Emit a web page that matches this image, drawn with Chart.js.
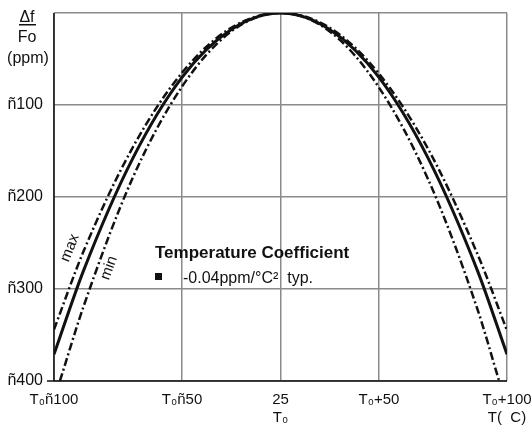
<!DOCTYPE html>
<html>
<head>
<meta charset="utf-8">
<script src="https://cdn.jsdelivr.net/npm/chart.js@4"></script>
<style>
    html, body { margin: 0; padding: 0; background: #fff; }
</style>
</head>
<body>
<canvas id="tcChart" width="531" height="429"></canvas>
<script>
// Datos (x = posicion respecto a T0, y = ppm)
const typX = [-115, -100, -75, -50, -25, 0, 25, 50, 75, 100, 115];
const typValues = [-371, -280, -158, -70, -18, 0, -18, -70, -158, -280, -371];
const maxX = [-115, -100, -75, -50, -25, 0, 25, 50, 75, 100, 115];
const maxValues = [-344, -259, -146, -65, -16, 0, -16, -66, -148, -262, -345];
const minX = [-112, -100, -75, -50, -25, 0, 25, 50, 75, 100, 111];
const minValues = [-400, -319, -179, -80, -20, 0, -20, -81, -181, -322, -400];

const xTickValues = [-115, -50, 0, 50, 115];
const xTickLabels = [['T\u2080\u00f1100'], ['T\u2080\u00f150'], ['25', 'T\u2080'], ['T\u2080+50'], ['T\u2080+100', 'T(  C)']];
const yTickValues = [0, -100, -200, -300, -400];
const yTickLabels = ['', '\u00f1100', '\u00f1200', '\u00f1300', '\u00f1400'];

const FONT = '"Liberation Sans", Arial, sans-serif';

function toPoints(xs, ys) {
    return xs.map((x, i) => ({ x: x, y: ys[i] }));
}

// Textos sobre el grafico: titulo del eje, leyenda y etiquetas max/min
const annotations = {
    id: 'annotations',
    afterDraw(chart) {
        const ctx = chart.ctx;
        const a = chart.chartArea;
        ctx.save();
        // marco izquierdo e inferior
        ctx.strokeStyle = '#111';
        ctx.lineWidth = 1.5;
        ctx.beginPath();
        ctx.moveTo(a.left, a.top);
        ctx.lineTo(a.left, a.bottom);
        ctx.lineTo(a.right, a.bottom);
        ctx.moveTo(a.left - 7, a.bottom);
        ctx.lineTo(a.left, a.bottom);
        ctx.stroke();

        ctx.fillStyle = '#111';
        // titulo del eje Y
        ctx.font = '16px ' + FONT;
        ctx.textAlign = 'center';
        ctx.textBaseline = 'alphabetic';
        ctx.fillText('\u0394f', 27, 22);
        ctx.fillRect(19, 24, 17, 1.5);
        ctx.fillText('Fo', 27, 42);
        ctx.fillText('(ppm)', 28, 63);

        // leyenda
        ctx.textAlign = 'left';
        ctx.font = 'bold 17px ' + FONT;
        ctx.fillText('Temperature Coefficient', 155, 258);
        ctx.fillRect(155, 273, 7, 7);
        ctx.font = '16px ' + FONT;
        ctx.fillText('-0.04ppm/\u00b0C\u00b2  typ.', 183, 283);

        // etiquetas rotadas
        ctx.font = '15px ' + FONT;
        ctx.textAlign = 'center';
        ctx.textBaseline = 'middle';
        ctx.translate(70, 248);
        ctx.rotate(-68 * Math.PI / 180);
        ctx.fillText('max', 0, 0);
        ctx.restore();

        ctx.save();
        ctx.fillStyle = '#111';
        ctx.font = '15px ' + FONT;
        ctx.textAlign = 'center';
        ctx.textBaseline = 'middle';
        ctx.translate(109, 268);
        ctx.rotate(-70 * Math.PI / 180);
        ctx.fillText('min', 0, 0);
        ctx.restore();
    }
};

new Chart(document.getElementById('tcChart'), {
    type: 'line',
    data: {
        datasets: [
            {
                label: 'typ',
                data: toPoints(typX, typValues),
                borderColor: '#111',
                borderWidth: 3,
                pointRadius: 0,
                cubicInterpolationMode: 'monotone'
            },
            {
                label: 'max',
                data: toPoints(maxX, maxValues),
                borderColor: '#111',
                borderWidth: 2.5,
                borderDash: [8, 3, 2, 3],
                pointRadius: 0,
                cubicInterpolationMode: 'monotone'
            },
            {
                label: 'min',
                data: toPoints(minX, minValues),
                borderColor: '#111',
                borderWidth: 2.5,
                borderDash: [8, 3, 2, 3],
                pointRadius: 0,
                cubicInterpolationMode: 'monotone'
            }
        ]
    },
    options: {
        responsive: false,
        animation: false,
        devicePixelRatio: 1,
        layout: { padding: { left: 0, top: 13, right: 24, bottom: 0 } },
        plugins: {
            legend: { display: false },
            tooltip: { enabled: false }
        },
        scales: {
            x: {
                type: 'linear',
                min: -115,
                max: 115,
                afterBuildTicks: scale => {
                    scale.ticks = xTickValues.map(v => ({ value: v }));
                },
                afterFit: scale => {
                    scale.height = 48;
                    scale.paddingLeft = 0;
                    scale.paddingRight = 0;
                },
                ticks: {
                    autoSkip: false,
                    maxRotation: 0,
                    padding: 10,
                    color: '#111',
                    font: { family: FONT, size: 15, lineHeight: 1.2 },
                    callback: (value, index) => xTickLabels[index]
                },
                grid: { color: '#8a8a8a', lineWidth: 1.5, drawTicks: false },
                border: { display: false }
            },
            y: {
                min: -400,
                max: 0,
                afterBuildTicks: scale => {
                    scale.ticks = yTickValues.map(v => ({ value: v }));
                },
                afterFit: scale => {
                    scale.width = 54;
                    scale.paddingTop = 0;
                    scale.paddingBottom = 0;
                },
                ticks: {
                    padding: 11,
                    color: '#111',
                    font: { family: FONT, size: 16 },
                    callback: (value, index) => yTickLabels[index]
                },
                grid: { color: '#8a8a8a', lineWidth: 1.5, drawTicks: false },
                border: { display: false }
            }
        }
    },
    plugins: [annotations]
});
</script>
</body>
</html>
